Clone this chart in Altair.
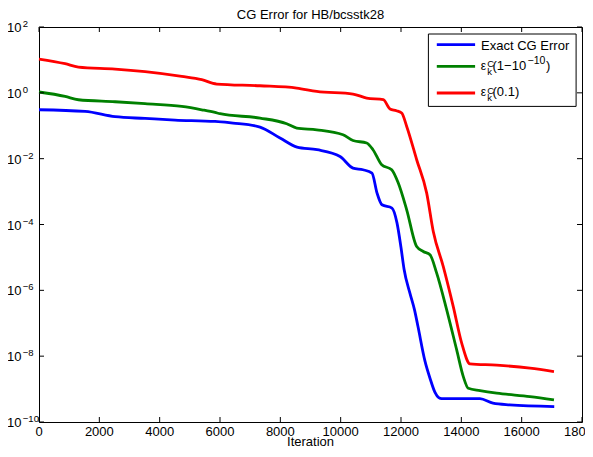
import altair as alt
import pandas as pd

# ---------------- data ----------------
series_names = ["Exact CG Error", "eps(1-1e-10)", "eps(0.1)"]
series_colors = ["#0000ff", "#008000", "#ff0000"]

blue_iter = [0, 1528, 2522, 3516, 4510, 5836, 6432, 7327, 7990, 8553, 9216, 9978,
             10409, 10740, 11039, 11204, 11370, 11701, 11867, 12000, 12100, 12300,
             12450, 12563, 12795, 12961, 13127, 13250, 13350, 14617, 15048, 15600, 17080]
blue_err = [0.306, 0.272, 0.188, 0.167, 0.149, 0.135, 0.121, 0.0912, 0.0423, 0.0225,
            0.0187, 0.0117, 0.00518, 0.0046, 0.00365, 0.000912, 0.000397, 0.000315,
            0.000112, 2.0e-5, 4.47e-6, 7.94e-7, 2.51e-7, 7.94e-8, 7.08e-9, 2.14e-9,
            7.94e-10, 5.5e-10, 5.13e-10, 5.1e-10, 3.72e-10, 3.31e-10, 2.95e-10]

green_iter = [0, 865, 1306, 2522, 3516, 4732, 5395, 5836, 6002, 7327, 8212, 8544, 9206,
              10078, 10409, 10863, 11072, 11360, 11692, 11910, 12189, 12520, 12739,
              12961, 13183, 13515, 13846, 14065, 14231, 14619, 15172, 16276, 17071]
green_err = [1.06, 0.778, 0.617, 0.536, 0.467, 0.386, 0.306, 0.254, 0.232, 0.171, 0.115,
             0.0851, 0.0755, 0.0532, 0.0357, 0.0298, 0.0187, 0.00653, 0.0046, 0.00181,
             0.00028, 2.14e-5, 1.51e-5, 1.2e-5, 3.33e-6, 2.55e-7, 1.55e-8, 2.4e-9,
             1.06e-9, 8.99e-10, 7.5e-10, 5.92e-10, 4.7e-10]

red_iter = [0, 865, 1306, 2522, 3516, 4732, 5395, 5892, 7327, 8544, 9206, 10409, 10863,
            11413, 11636, 11850, 12023, 12189, 12520, 12852, 13070, 13402, 13733, 14012,
            14288, 15172, 16276, 17071]
red_err = [10.6, 7.66, 6.08, 5.28, 4.38, 3.15, 2.5, 1.85, 1.64, 1.4, 1.1, 0.92, 0.695,
           0.617, 0.322, 0.286, 0.243, 0.0953, 0.00927, 0.000899, 6.12e-5, 5.28e-6,
           3.21e-7, 2.48e-8, 5.83e-9, 5.32e-9, 4.32e-9, 3.4e-9]

x_ticks = [0, 2000, 4000, 6000, 8000, 10000, 12000, 14000, 16000, 18000]
y_tick_values = [1e2, 1e0, 1e-2, 1e-4, 1e-6, 1e-8, 1e-10]
y_tick_exps = ["2", "0", "\u22122", "\u22124", "\u22126", "\u22128", "\u221210"]

title_text = "CG Error for HB/bcsstk28"
x_title = "Iteration"

# ---------------- build ----------------
FONT = "Liberation Sans"
W, H = 543, 395

rows = []
for name, its, errs in zip(series_names, [blue_iter, green_iter, red_iter],
                           [blue_err, green_err, red_err]):
    for i, e in zip(its, errs):
        rows.append({"series": name, "iter": i, "err": e})
df = pd.DataFrame(rows)

x_scale = alt.Scale(domain=[0, 18000], nice=False, zero=False)
y_scale = alt.Scale(type="log", domain=[1e-10, 1e2], nice=False)
c_scale = alt.Scale(domain=series_names, range=series_colors)

lines = alt.Chart(df).mark_line(strokeWidth=2.8, interpolate="monotone").encode(
    x=alt.X("iter:Q", scale=x_scale, axis=None),
    y=alt.Y("err:Q", scale=y_scale, axis=None),
    color=alt.Color("series:N", scale=c_scale, legend=None),
)

xt = pd.DataFrame({"v": x_ticks, "lab": [str(v) for v in x_ticks]})
yt = pd.DataFrame({"v": y_tick_values, "e": y_tick_exps})

xb = alt.Chart(xt).mark_rule(color="black", strokeWidth=1).encode(
    x=alt.X("v:Q", scale=x_scale, axis=None), y=alt.value(H), y2=alt.value(H - 5))
xtop = alt.Chart(xt).mark_rule(color="black", strokeWidth=1).encode(
    x=alt.X("v:Q", scale=x_scale, axis=None), y=alt.value(0), y2=alt.value(5))
yl = alt.Chart(yt).mark_rule(color="black", strokeWidth=1).encode(
    y=alt.Y("v:Q", scale=y_scale, axis=None), x=alt.value(0), x2=alt.value(5))
yr = alt.Chart(yt).mark_rule(color="black", strokeWidth=1).encode(
    y=alt.Y("v:Q", scale=y_scale, axis=None), x=alt.value(W), x2=alt.value(W - 5))

xlab = alt.Chart(xt).mark_text(font=FONT, fontSize=13, align="center",
                               baseline="alphabetic", color="black").encode(
    x=alt.X("v:Q", scale=x_scale, axis=None), y=alt.value(408.8), text="lab:N")
ybase = alt.Chart(yt).mark_text(font=FONT, fontSize=13, align="left",
                                baseline="alphabetic", dy=5, color="black").encode(
    y=alt.Y("v:Q", scale=y_scale, axis=None), x=alt.value(-31.9), text=alt.value("10"))
yexp = alt.Chart(yt).mark_text(font=FONT, fontSize=9.5, align="left",
                               baseline="alphabetic", dy=0, color="black").encode(
    y=alt.Y("v:Q", scale=y_scale, axis=None), x=alt.value(-16.2), text="e:N")

one = pd.DataFrame({"a": [0]})


def txt(s, x, y, size=13, align="left"):
    return alt.Chart(one).mark_text(font=FONT, fontSize=size, align=align,
                                    baseline="alphabetic", color="black").encode(
        x=alt.value(x), y=alt.value(y), text=alt.value(s))


title = txt(title_text, W / 2, -8.3, 13, "center")
xtitle = txt(x_title, W / 2, 419.3, 13, "center")

box = alt.Chart(one).mark_rect(fill="white", stroke="black", strokeWidth=1).encode(
    x=alt.value(389.4), x2=alt.value(537.1), y=alt.value(7), y2=alt.value(79.4))

leg_lines = []
for col, yy in zip(series_colors, [17.7, 39.4, 66.0]):
    leg_lines.append(alt.Chart(one).mark_rule(color=col, strokeWidth=2.8).encode(
        x=alt.value(397.8), x2=alt.value(436.1), y=alt.value(yy)))

leg_text = [
    txt("Exact CG Error", 442.1, 22.7),
    txt("\u03b5", 441.8, 42.7, 12),
    txt("C", 448.3, 40.0, 9.5),
    txt("k", 448.3, 47.7, 9.5),
    txt("(1\u221210", 453.5, 42.7),
    txt("\u221210", 488.5, 37.0, 10.5),
    txt(")", 507.0, 42.7),
    txt("\u03b5", 441.8, 69.4, 12),
    txt("C", 448.3, 66.7, 9.5),
    txt("k", 448.3, 74.4, 9.5),
    txt("(0.1)", 453.5, 69.4),
]

chart = alt.layer(
    lines, xb, xtop, yl, yr, xlab, ybase, yexp, title, xtitle, box, *leg_lines, *leg_text
).properties(
    width=W, height=H,
    autosize=alt.AutoSizeParams(type="none"),
    padding={"left": 31, "top": 19, "right": 3, "bottom": 27},
    background="white",
).configure_view(stroke="black", strokeWidth=1)

chart.save("out.html", embed_options={"renderer": "svg", "actions": False})
